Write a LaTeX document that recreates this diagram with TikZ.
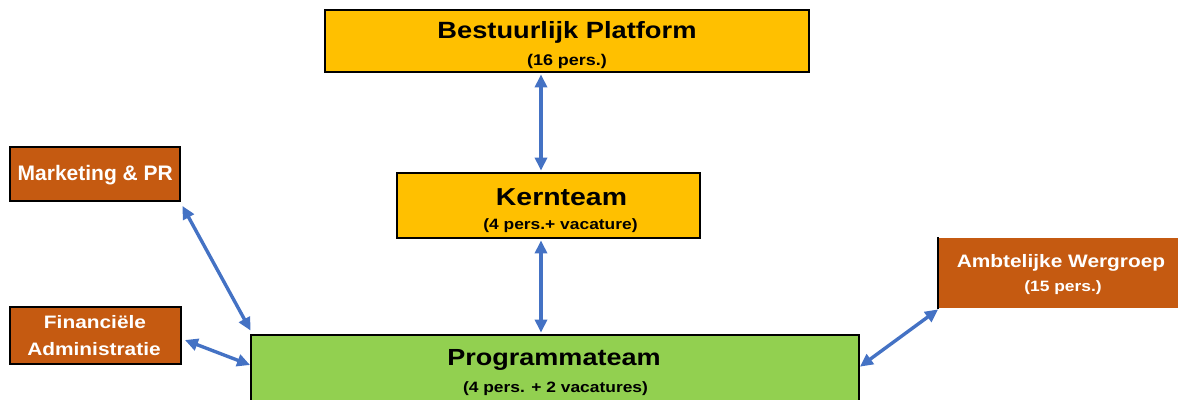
\documentclass[tikz,border=0pt]{standalone}
\usepackage{fontspec}
\setmainfont{Liberation Sans}
\newfontfamily\breed{Liberation Sans}[FakeStretch=1.16]
\usetikzlibrary{arrows.meta}
\definecolor{geel}{HTML}{FFC000}
\definecolor{oranje}{HTML}{C55A11}
\definecolor{groen}{HTML}{92D050}
\definecolor{pijl}{HTML}{4472C4}
\begin{document}
\begin{tikzpicture}
	[x=1pt, y=-1pt,
	 box/.style = {draw=black, line width=1.8pt, rectangle, inner sep=0pt},
	 geelbox/.style = {box, fill=geel},
	 oranjebox/.style = {box, fill=oranje},
	 tekst/.style = {anchor=base, inner sep=0pt, font=\breed\bfseries\fontsize{#1}{#1}\selectfont},
	 gewoon/.style = {anchor=base, inner sep=0pt, font=\bfseries\fontsize{#1}{#1}\selectfont},
	 link/.style = {draw=pijl, line width=3.4pt, {Triangle[length=13pt,width=12pt]}-{Triangle[length=13pt,width=12pt]}}]
	\useasboundingbox (0,0) rectangle (1178,399);
	% vakken
	\node[geelbox, minimum width=484pt, minimum height=62pt] (plat) at (567,41) {};
	\node[geelbox, minimum width=303pt, minimum height=65pt] (kern) at (548.5,205.5) {};
	\node[box, fill=groen, minimum width=608pt, minimum height=76pt] (prog) at (555,373) {};
	\node[oranjebox, minimum width=170pt, minimum height=54pt] (mark) at (95,174) {};
	\node[oranjebox, minimum width=171pt, minimum height=57pt] (fin) at (95.5,335.5) {};
	\node[oranjebox, draw=none, minimum width=246pt, minimum height=70pt] (ambt) at (1062,273) {};
	\draw[line width=1.8pt] (ambt.north west) -- (ambt.south west);
	% teksten
	\node[tekst=23.5] (platt) at (567,38.3) {Bestuurlijk Platform};
	\node[tekst=15.5] (plats) at (567,65) {(16 pers.)};
	\node[tekst=24.5] (kernt) at (561.5,205) {Kernteam};
	\node[tekst=15] (kerns) at (560.5,229.3) {(4 pers.+ vacature)};
	\node[tekst=23.3] (progt) at (554,365.7) {Programmateam};
	\node[tekst=15] (progs) at (555.5,392.3) {(4 pers. + 2 vacatures)};
	\node[gewoon=21, text=white] (markt) at (95.3,180) {Marketing \& PR};
	\node[tekst=18, text=white] (fint) at (95,328.3) {Financiële};
	\node[tekst=18, text=white] (fins) at (94,355) {Administratie};
	\node[tekst=18, text=white] (ambtt) at (1061,267.3) {Ambtelijke Wergroep};
	\node[tekst=15, text=white] (ambts) at (1063,291.7) {(15 pers.)};
	% verbindingen
	\draw[link, shorten <=1.5pt, shorten >=1.5pt] ([xshift=-26pt]plat.south) -- ([xshift=-7.5pt]kern.north);
	\draw[link, shorten <=1.5pt, shorten >=1.5pt] ([xshift=-7.5pt]kern.south) -- ([xshift=-14pt]prog.north);
	\draw[link] ([xshift=1.5pt, yshift=-4pt]mark.south east) -- ([xshift=0.5pt, yshift=3.5pt]prog.north west);
	\draw[link] ([xshift=3pt, yshift=-4.5pt]fin.east) -- ([yshift=8pt]prog.west);
	\draw[link] ([yshift=-0.5pt]ambt.south west) -- ([yshift=6.3pt]prog.east);
\end{tikzpicture}
\end{document}
